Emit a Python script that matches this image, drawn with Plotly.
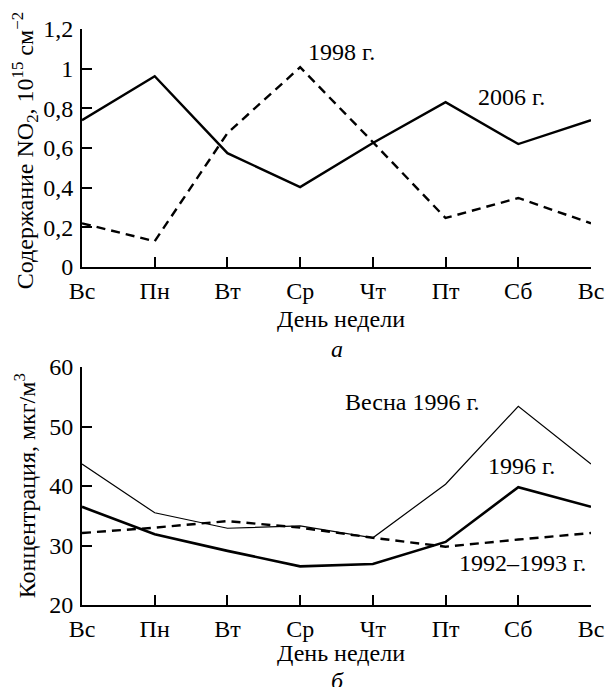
import plotly.graph_objects as go
from plotly.subplots import make_subplots

days = ["Вс", "Пн", "Вт", "Ср", "Чт", "Пт", "Сб", "Вс"]
no2_2006 = [0.74, 0.962, 0.574, 0.403, 0.625, 0.831, 0.62, 0.74]
no2_1998 = [0.22, 0.13, 0.675, 1.007, 0.63, 0.247, 0.348, 0.22]

spring_1996 = [43.7, 35.5, 32.9, 33.3, 31.3, 40.3, 53.4, 43.7]
year_1996 = [36.5, 31.9, 29.1, 26.5, 26.9, 30.6, 39.8, 36.5]
years_9293 = [32.1, 33.0, 34.1, 33.0, 31.3, 29.8, 31.0, 32.1]

top_ticks = [0, 0.2, 0.4, 0.6, 0.8, 1.0, 1.2]
bot_ticks = [20, 30, 40, 50, 60]

FONT = "Liberation Serif, Times New Roman, serif"
SIZE = 24
W, H = 616, 687
ML, MR, MT, MB = 82, 14, 29, 82
PH = H - MT - MB

def py(pix):
    return (H - MB - pix) / PH

def px(pix):
    return (pix - ML) / (W - ML - MR)

xs = list(range(len(days)))

fig = make_subplots(rows=2, cols=1, vertical_spacing=0.0)

dash = "9px,6px"
fig.add_trace(go.Scatter(x=xs, y=no2_2006, mode="lines", line=dict(color="black", width=2.4)), row=1, col=1)
fig.add_trace(go.Scatter(x=xs, y=no2_1998, mode="lines", line=dict(color="black", width=2.4, dash=dash)), row=1, col=1)
fig.add_trace(go.Scatter(x=xs, y=spring_1996, mode="lines", line=dict(color="black", width=1.2)), row=2, col=1)
fig.add_trace(go.Scatter(x=xs, y=year_1996, mode="lines", line=dict(color="black", width=2.6)), row=2, col=1)
fig.add_trace(go.Scatter(x=xs, y=years_9293, mode="lines", line=dict(color="black", width=2.4, dash=dash)), row=2, col=1)

axis_common = dict(showgrid=False, zeroline=False, showline=True, linecolor="black", linewidth=2,
                   ticks="inside", ticklen=10, tickwidth=1.5, tickcolor="black",
                   tickfont=dict(family=FONT, size=SIZE, color="black"))

for r in (1, 2):
    fig.update_xaxes(range=[0, 7], tickvals=xs, ticktext=days, ticklabelstandoff=1, **axis_common, row=r, col=1)

fig.update_yaxes(range=[0, 1.2], tickvals=top_ticks, ticklabelstandoff=2, **axis_common, row=1, col=1)
fig.update_yaxes(range=[20, 60], tickvals=bot_ticks, ticklabelstandoff=2, **axis_common, row=2, col=1)

fig.update_layout(
    yaxis=dict(domain=[py(267), 1.0]),
    yaxis2=dict(domain=[0.0, py(367)]),
)

ann_font = dict(family=FONT, size=SIZE, color="black")
def ann(x, y, text, xref, yref, **kw):
    return dict(x=x, y=y, xref=xref, yref=yref, text=text, showarrow=False, font=ann_font,
                xanchor="center", yanchor="middle", **kw)

annotations = [
    ann(3.57, 1.084, "1998 г.", "x", "y"),
    ann(5.9, 0.857, "2006 г.", "x", "y"),
    ann(4.55, 54.1, "Весна 1996 г.", "x2", "y2"),
    ann(6.04, 43.4, "1996 г.", "x2", "y2"),
    ann(6.06, 27.1, "1992–1993 г.", "x2", "y2"),
    ann(px(347), py(319), "День недели", "paper", "paper"),
    ann(px(347), py(653), "День недели", "paper", "paper"),
    ann(px(343), py(349), "<i>а</i>", "paper", "paper"),
    ann(px(343), py(681), "<i>б</i>", "paper", "paper"),
    ann(px(24), py(151), "Содержание NO<sub>2</sub>, 10<sup>15</sup> см<sup>−2</sup>", "paper", "paper", textangle=-90),
    ann(px(24), py(486), "Концентрация, мкг/м<sup>3</sup>", "paper", "paper", textangle=-90),
]

fig.update_layout(
    width=W, height=H,
    margin=dict(l=ML, r=MR, t=MT, b=MB),
    paper_bgcolor="white", plot_bgcolor="white",
    showlegend=False,
    separators=", ",
    annotations=annotations,
    font=dict(family=FONT, size=SIZE, color="black"),
)

fig.write_html("out.html", config={"displayModeBar": False})
